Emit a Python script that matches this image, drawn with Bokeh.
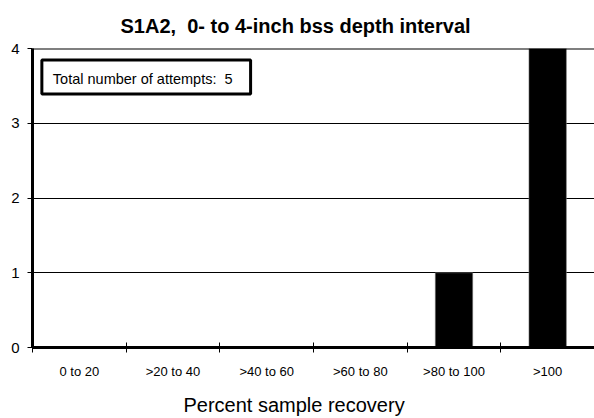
from bokeh.plotting import figure
from bokeh.models import ColumnDataSource, FixedTicker, Span, Label, Range1d
from bokeh.embed import file_html
from bokeh.resources import INLINE

categories = ["0 to 20", ">20 to 40", ">40 to 60", ">60 to 80", ">80 to 100", ">100"]
counts = [0, 0, 0, 0, 1, 4]
y_ticks = [0, 1, 2, 3, 4]
title_text = "S1A2,\u00a0\u00a00- to 4-inch bss depth interval"
x_label = "Percent sample recovery"
note_text = "Total number of attempts:\u00a0\u00a05"

FONT = "Liberation Sans"
centers = [i + 0.5 for i in range(len(categories))]
bounds = list(range(len(categories) + 1))

p = figure(width=594, height=418, output_backend="svg", toolbar_location=None,
           x_range=Range1d(0, len(categories)), y_range=Range1d(0, 4),
           min_border_left=32, min_border_right=0, min_border_top=47, min_border_bottom=70)
p.outline_line_color = None

p.title.text = title_text
p.title.align = "left"
p.title.offset = 88
p.title.text_font = FONT
p.title.text_font_size = "20px"
p.title.text_font_style = "bold"
p.title.text_color = "black"
p.title.standoff = 24

src = ColumnDataSource(dict(x=centers, top=counts))
p.vbar(x="x", top="top", bottom=0, width=0.4, source=src,
       fill_color="black", line_color="#888888", line_width=0.5)

# axes
xa = p.xaxis[0]
xa.ticker = FixedTicker(ticks=centers, minor_ticks=bounds)
xa.major_label_overrides = {c: lab for c, lab in zip(centers, categories)}
xa.major_tick_line_color = None
xa.minor_tick_in = 5
xa.minor_tick_out = 5
xa.minor_tick_line_width = 1
xa.minor_tick_line_color = "black"
xa.axis_line_width = 3
xa.axis_line_color = "black"
xa.major_label_text_font = FONT
xa.major_label_text_font_size = "13px"
xa.major_label_text_color = "black"
xa.major_label_standoff = 10
# trailing non-breaking spaces shift the centred title left, as in the original
xa.axis_label = x_label + "\u00a0" * 7
xa.axis_label_text_font = FONT
xa.axis_label_text_font_size = "20px"
xa.axis_label_text_font_style = "normal"
xa.axis_label_text_color = "black"
xa.axis_label_standoff = 12

ya = p.yaxis[0]
ya.ticker = FixedTicker(ticks=y_ticks)
ya.minor_tick_line_color = None
ya.major_tick_in = 0
ya.major_tick_out = 5
ya.major_tick_line_color = "black"
ya.axis_line_width = 3
ya.axis_line_color = "black"
ya.major_label_text_font = FONT
ya.major_label_text_font_size = "15px"
ya.major_label_text_color = "black"
ya.major_label_standoff = 8

p.xgrid.grid_line_color = None
p.ygrid.ticker = FixedTicker(ticks=y_ticks[1:-1])
p.ygrid.grid_line_color = "black"
p.ygrid.grid_line_width = 1

p.add_layout(Span(location=y_ticks[-1], dimension="width", line_color="black", line_width=2))

p.add_layout(Label(x=0.1, y=3.39, text=note_text, text_font=FONT, text_font_size="14.5px",
                   text_color="black", text_baseline="bottom", padding=(11, 18, 11, 7),
                   border_line_color="black", border_line_width=3,
                   background_fill_color="white"))

open("out.html", "w").write(file_html(p, INLINE))
